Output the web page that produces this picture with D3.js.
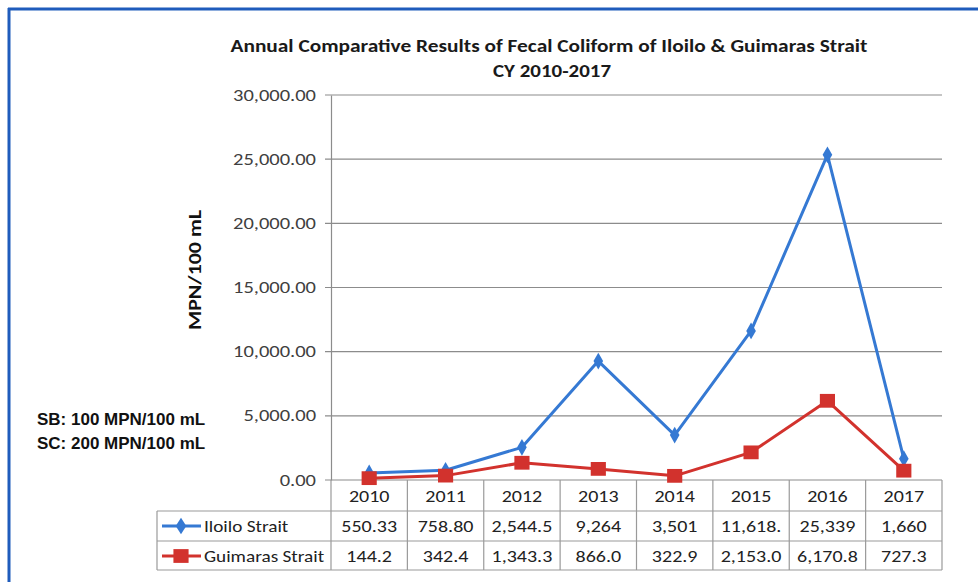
<!DOCTYPE html>
<html><head><meta charset="utf-8">
<script src="https://cdn.jsdelivr.net/npm/d3@7"></script>
<style>body{margin:0;background:#fff}svg{display:block}</style>
</head><body>
<svg id="c" width="978" height="582"></svg>
<script>
const years = ["2010","2011","2012","2013","2014","2015","2016","2017"];
const iloilo = [550.33, 758.80, 2544.5, 9264, 3501, 11618, 25339, 1660];
const guimaras = [144.2, 342.4, 1343.3, 866.0, 322.9, 2153.0, 6170.8, 727.3];
const iloiloLabels = ["550.33","758.80","2,544.5","9,264","3,501","11,618.","25,339","1,660"];
const guimarasLabels = ["144.2","342.4","1,343.3","866.0","322.9","2,153.0","6,170.8","727.3"];
const yTicks = [0,5000,10000,15000,20000,25000,30000];
const seriesNames = ["Iloilo Strait","Guimaras Strait"];

const svg = d3.select("#c");
const font = "Carlito, Lato, 'Liberation Sans', sans-serif";
const x0 = 331, x1 = 942, yTop = 95, yBot = 480;
const x = d3.scaleBand().domain(years).range([x0, x1]).paddingInner(0).paddingOuter(0);
const y = d3.scaleLinear().domain([0, 30000]).range([yBot, yTop]);

function stretch(sel, k) {
  sel.each(function () {
    const w = this.getComputedTextLength();
    d3.select(this).attr("textLength", w * k).attr("lengthAdjust", "spacingAndGlyphs");
  });
}

// frame
svg.append("line").attr("x1",8).attr("x2",978).attr("y1",9).attr("y2",9).attr("stroke","#1f5cbc").attr("stroke-width",3);
svg.append("line").attr("x1",9).attr("x2",9).attr("y1",8).attr("y2",582).attr("stroke","#1f5cbc").attr("stroke-width",3);

// title
svg.append("text").attr("x",549).attr("y",52).attr("text-anchor","middle")
  .attr("font-family",font).attr("font-weight","bold").attr("font-size",17).attr("fill","#1a1a1a")
  .attr("textLength",637).attr("lengthAdjust","spacingAndGlyphs")
  .text("Annual Comparative Results of Fecal Coliform of Iloilo & Guimaras Strait");
svg.append("text").attr("x",552).attr("y",77).attr("text-anchor","middle")
  .attr("font-family",font).attr("font-weight","bold").attr("font-size",17).attr("fill","#1a1a1a")
  .attr("textLength",118).attr("lengthAdjust","spacingAndGlyphs")
  .text("CY 2010-2017");

// gridlines
const grid = svg.append("g");
grid.selectAll("line").data(yTicks).join("line")
  .attr("x1",x0-6).attr("x2",x1).attr("y1",d=>y(d)).attr("y2",d=>y(d))
  .attr("stroke","#8c8c8c").attr("stroke-width",1.2);

// y axis
const yAxis = d3.axisLeft(y).tickValues(yTicks).tickSize(0).tickPadding(15)
  .tickFormat(d=>d3.format(",.2f")(d));
const ya = svg.append("g").attr("transform",`translate(${x0},0)`).call(yAxis);
ya.select(".domain").attr("stroke","#8c8c8c").attr("stroke-width",1.2);
ya.selectAll("text").attr("font-family",font).attr("font-size",16).attr("fill","#404040");
stretch(ya.selectAll("text"), 1.28);

// y label
svg.append("text").attr("transform","translate(201,270) rotate(-90)").attr("text-anchor","middle")
  .attr("font-family",font).attr("font-weight","bold").attr("font-size",19).attr("fill","#111")
  .attr("textLength",120).attr("lengthAdjust","spacingAndGlyphs")
  .text("MPN/100 mL");

// standards
svg.append("text").attr("x",37).attr("y",425).attr("font-family","'Liberation Sans', Arial, sans-serif")
  .attr("font-weight","bold").attr("font-size",17).attr("fill","#111").text("SB: 100 MPN/100 mL");
svg.append("text").attr("x",37).attr("y",449).attr("font-family","'Liberation Sans', Arial, sans-serif")
  .attr("font-weight","bold").attr("font-size",17).attr("fill","#111").text("SC: 200 MPN/100 mL");

// table
const rowY = [480, 511, 541, 570];
const tableLeft = 157;
const tbl = svg.append("g").attr("stroke","#9a9a9a").attr("stroke-width",1.2);
tbl.append("line").attr("x1",tableLeft).attr("x2",x1).attr("y1",rowY[1]).attr("y2",rowY[1]);
tbl.append("line").attr("x1",tableLeft).attr("x2",x1).attr("y1",rowY[2]).attr("y2",rowY[2]);
tbl.append("line").attr("x1",tableLeft).attr("x2",x1).attr("y1",rowY[3]).attr("y2",rowY[3]);
tbl.append("line").attr("x1",tableLeft).attr("x2",tableLeft).attr("y1",rowY[1]).attr("y2",rowY[3]);
const vx = years.map(d=>x(d)).concat([x1]);
tbl.selectAll("line.v").data(vx).join("line").attr("class","v")
  .attr("x1",d=>d).attr("x2",d=>d).attr("y1",rowY[0]).attr("y2",rowY[3]);

const txt = svg.append("g").attr("font-family",font).attr("font-size",16).attr("fill","#222").attr("text-anchor","middle");
txt.selectAll("text.yr").data(years).join("text").attr("class","yr")
  .attr("x",d=>x(d)+x.bandwidth()/2).attr("y",502).text(d=>d);
txt.selectAll("text.il").data(iloiloLabels).join("text").attr("class","il")
  .attr("x",(d,i)=>x(years[i])+x.bandwidth()/2).attr("y",532).text(d=>d);
txt.selectAll("text.gu").data(guimarasLabels).join("text").attr("class","gu")
  .attr("x",(d,i)=>x(years[i])+x.bandwidth()/2).attr("y",562).text(d=>d);
stretch(txt.selectAll("text"), 1.25);

const blue = "#3579d3", red = "#d2322d";
const diamond = d3.symbol().type(d3.symbolDiamond).size(80);
const square = d3.symbol().type(d3.symbolSquare).size(190);

// legend cells
[[blue, diamond, 526], [red, square, 556]].forEach(([c, sym, yy], i) => {
  svg.append("line").attr("x1",162).attr("x2",201).attr("y1",yy).attr("y2",yy).attr("stroke",c).attr("stroke-width",3);
  svg.append("path").attr("d",sym()).attr("transform",`translate(181,${yy}) scale(1.1,1)`).attr("fill",c);
  const t = svg.append("text").attr("x",204).attr("y",yy+6).attr("font-family",font).attr("font-size",16).attr("fill","#222").text(seriesNames[i]);
  stretch(t, 1.2);
});

// lines
const line = d3.line().x((d,i)=>x(years[i])+x.bandwidth()/2).y(d=>y(d));
svg.append("path").datum(guimaras).attr("d",line).attr("fill","none").attr("stroke",red).attr("stroke-width",3).attr("stroke-linejoin","round");
svg.append("path").datum(iloilo).attr("d",line).attr("fill","none").attr("stroke",blue).attr("stroke-width",3).attr("stroke-linejoin","round");
svg.selectAll("path.mi").data(iloilo).join("path").attr("class","mi").attr("d",diamond)
  .attr("transform",(d,i)=>`translate(${x(years[i])+x.bandwidth()/2},${y(d)})`).attr("fill",blue);
svg.selectAll("path.mg").data(guimaras).join("path").attr("class","mg").attr("d",square)
  .attr("transform",(d,i)=>`translate(${x(years[i])+x.bandwidth()/2},${y(d)}) scale(1.1,1)`).attr("fill",red);
</script>
</body></html>
